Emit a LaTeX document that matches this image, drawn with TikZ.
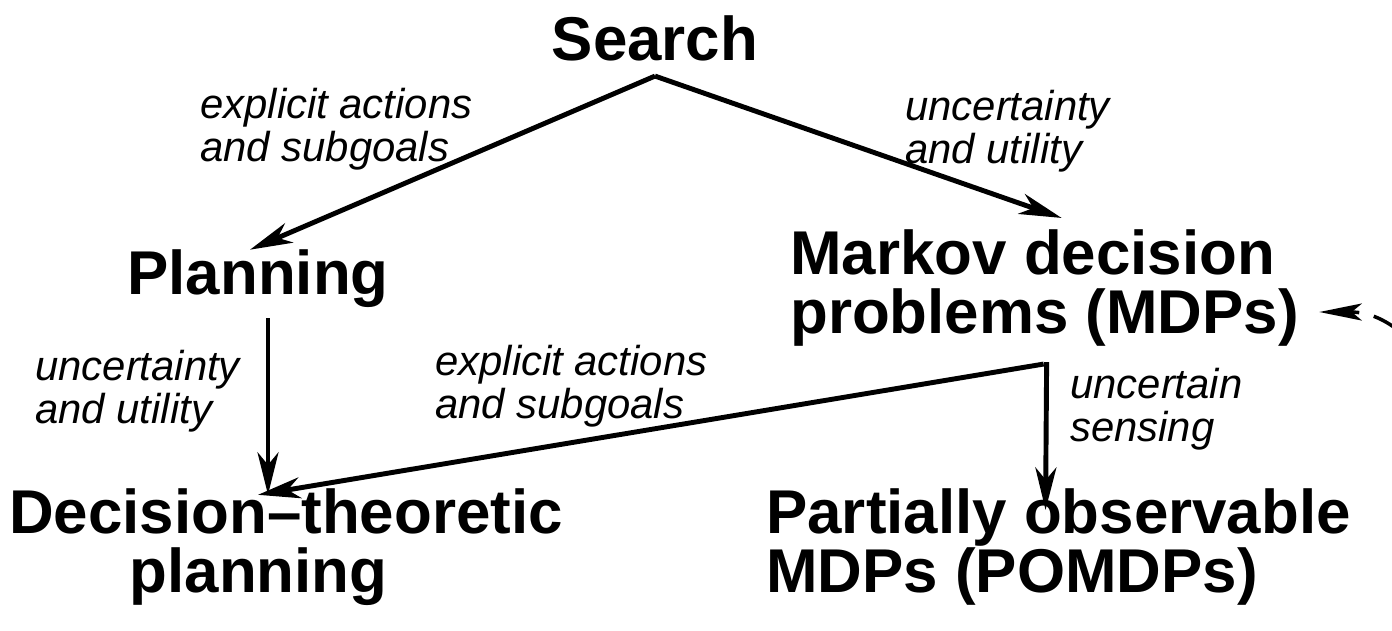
\documentclass[tikz,border=0pt]{standalone}
\usepackage{fontspec}
\setmainfont{Liberation Sans}
\usepackage{tikz}
\usetikzlibrary{arrows.meta, calc}

\begin{document}
\begin{tikzpicture}[
  x=0.02cm, y=-0.02cm,
  topic/.style={align=center, inner sep=0pt,
                font=\fontsize{35.2}{34}\selectfont\bfseries},
  note/.style={align=left, inner sep=0pt, anchor=north west,
               font=\fontsize{23.8}{24.5}\selectfont\itshape},
  arrow/.style={-{Stealth[length=0.85cm, width=0.42cm, inset=0.25cm]}, line width=2.8pt},
  hint/.style={-{Stealth[length=0.85cm, width=0.34cm, inset=0.2cm]}, line width=2pt,
               dash pattern=on 0.8cm off 0.3cm}
]
\useasboundingbox (0,0) rectangle (1392,630);

\node[topic] (search)   at (655,38)   {Search};
\node[topic] (planning) at (258,279)  {Planning};
\node[topic, align=left, anchor=west] (mdp) at (790,288) {Markov decision\\problems (MDPs)};
\node[topic] (dtp)      at (286,547)  {Decision--theoretic\\planning\hspace*{1.1cm}};
\node[topic, align=left, anchor=west] (pomdp) at (766,547) {Partially observable\\MDPs (POMDPs)};

\node[note] (lplan)  at (200,88)   {explicit actions\\and subgoals};
\node[note] (lmdp)   at (905,90)   {uncertainty\\and utility};
\node[note] (ldtp)   at (35,350)   {uncertainty\\and utility};
\node[note] (lcross) at (435,345)  {explicit actions\\and subgoals};
\node[note] (lpomdp) at (1070,368) {uncertain\\sensing};

\coordinate (aside) at (1480,420);

\draw[arrow] ($(search.south)+(0,15)$) -- ($(planning.north)+(-8,0)$);
\draw[arrow] ($(search.south)+(0,15)$) -- ($(mdp.north)+(17,-11)$);
\draw[arrow] ($(planning.south)+(10,10)$) -- ($(dtp.north)+(-18,7)$);
\draw[arrow] ($(mdp.south)+(2,15)$) -- ($(pomdp.north)+(-13,22)$);
\draw[arrow] ($(mdp.south)+(-1,17)$) -- ($(dtp.north)+(-28,7)$);

\draw[hint] (aside) .. controls (1420,345) and (1390,312) .. ($(mdp.east)+(20,24)$);

\end{tikzpicture}
\end{document}
